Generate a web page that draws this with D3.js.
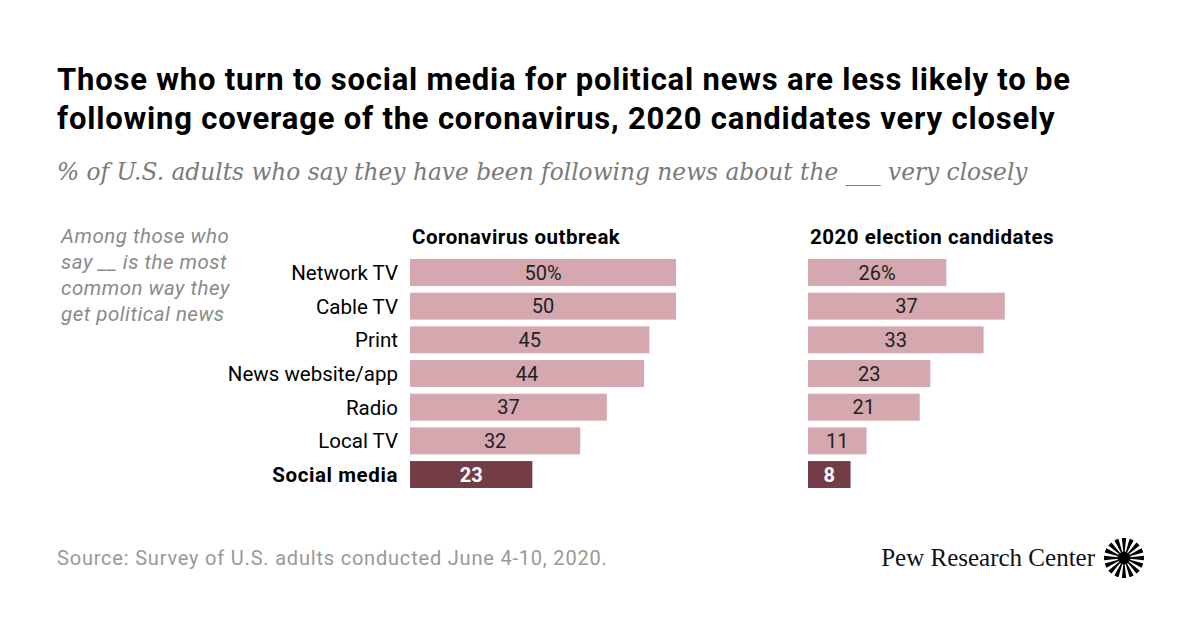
<!DOCTYPE html>
<html>
<head>
<meta charset="utf-8">
<script src="https://cdn.jsdelivr.net/npm/d3@7"></script>
<style>
  body { margin: 0; background: #fff; }
  svg { display: block; }
</style>
</head>
<body>
<div id="chart"></div>
<script>
// data
const categories = ['Network TV', 'Cable TV', 'Print', 'News website/app', 'Radio', 'Local TV', 'Social media'];
const coronavirus = [50, 50, 45, 44, 37, 32, 23];
const candidates = [26, 37, 33, 23, 21, 11, 8];
const panelTitles = ['Coronavirus outbreak', '2020 election candidates'];
const highlight = 'Social media';

const width = 1200;
const height = 628;
const sans = "'Roboto', 'Liberation Sans', sans-serif";
const serif = "'DejaVu Serif', 'Liberation Serif', serif";

const svg = d3.select('#chart')
  .append('svg')
  .attr('width', width)
  .attr('height', height);

// title
const title = svg.append('text')
  .attr('font-family', sans)
  .attr('font-weight', 'bold')
  .attr('font-size', 31)
  .attr('letter-spacing', 0.8)
  .attr('fill', '#000');
title.append('tspan').attr('x', 57).attr('y', 90)
  .text('Those who turn to social media for political news are less likely to be');
title.append('tspan').attr('x', 57).attr('y', 129)
  .text('following coverage of the coronavirus, 2020 candidates very closely');

svg.append('text')
  .attr('x', 57)
  .attr('y', 180)
  .attr('font-family', serif)
  .attr('font-style', 'italic')
  .attr('font-size', 23.3)
  .attr('fill', '#7a7a7a')
  .text('% of U.S. adults who say they have been following news about the ___ very closely');

// side note
const note = svg.append('text')
  .attr('font-family', sans)
  .attr('font-style', 'italic')
  .attr('font-size', 20.5)
  .attr('letter-spacing', 0.5)
  .attr('fill', '#8a8a8a');
['Among those who', 'say __ is the most', 'common way they', 'get political news']
  .forEach((line, i) => {
    note.append('tspan').attr('x', 61).attr('y', 243 + i * 26).text(line);
  });

// scales
const x = d3.scaleLinear().domain([0, 50]).range([0, 266]);
const y = d3.scaleBand()
  .domain(categories)
  .range([259, 488])
  .paddingInner(0.2)
  .paddingOuter(0);

// category labels
svg.append('g')
  .selectAll('text')
  .data(categories)
  .join('text')
  .attr('x', 398)
  .attr('y', (d) => y(d) + y.bandwidth() / 2)
  .attr('dy', '0.36em')
  .attr('text-anchor', 'end')
  .attr('font-family', sans)
  .attr('font-size', 20.5)
  .attr('font-weight', (d) => (d === highlight ? 'bold' : 'normal'))
  .attr('letter-spacing', (d) => (d === highlight ? 0.6 : 0))
  .attr('fill', '#000')
  .text((d) => d);

const panels = [
  { title: panelTitles[0], values: coronavirus, x0: 410 },
  { title: panelTitles[1], values: candidates, x0: 808 },
];

panels.forEach((p) => {
  const g = svg.append('g').attr('transform', `translate(${p.x0},0)`);

  g.append('text')
    .attr('x', 2)
    .attr('y', 244)
    .attr('font-family', sans)
    .attr('font-weight', 'bold')
    .attr('font-size', 20.5)
    .attr('letter-spacing', 0.5)
    .attr('fill', '#000')
    .text(p.title);

  const rows = categories.map((c, i) => ({ cat: c, value: p.values[i], first: i === 0 }));

  g.selectAll('rect')
    .data(rows)
    .join('rect')
    .attr('x', 0)
    .attr('y', (d) => y(d.cat))
    .attr('width', (d) => x(d.value))
    .attr('height', y.bandwidth())
    .attr('fill', (d) => (d.cat === highlight ? '#733c46' : '#d4a8ae'));

  g.selectAll('text.value')
    .data(rows)
    .join('text')
    .attr('class', 'value')
    .attr('x', (d) => x(d.value) / 2)
    .attr('y', (d) => y(d.cat) + y.bandwidth() / 2)
    .attr('dy', '0.36em')
    .attr('text-anchor', 'middle')
    .attr('font-family', sans)
    .attr('font-size', 20)
    .attr('font-weight', (d) => (d.cat === highlight ? 'bold' : 'normal'))
    .attr('fill', (d) => (d.cat === highlight ? '#fff' : '#222'))
    .text((d) => (d.first ? `${d.value}%` : d.value));
});

// footer
svg.append('text')
  .attr('x', 57)
  .attr('y', 565)
  .attr('font-family', sans)
  .attr('font-size', 20)
  .attr('letter-spacing', 0.8)
  .attr('fill', '#999')
  .text('Source: Survey of U.S. adults conducted June 4-10, 2020.');

svg.append('text')
  .attr('x', 1095)
  .attr('y', 566)
  .attr('text-anchor', 'end')
  .attr('font-family', "'Liberation Serif', 'DejaVu Serif', serif")
  .attr('font-size', 25)
  .attr('fill', '#111')
  .text('Pew Research Center');

// logo
const logo = svg.append('g').attr('transform', 'translate(1124,558)');
const nRays = 16;
const ray = d3.arc().innerRadius(6).outerRadius(20);
logo.selectAll('path')
  .data(d3.range(nRays))
  .join('path')
  .attr('d', (i) => ray({
    startAngle: (i / nRays) * 2 * Math.PI - 0.11,
    endAngle: (i / nRays) * 2 * Math.PI + 0.11,
  }))
  .attr('fill', '#000');
logo.append('circle').attr('r', 6.5).attr('fill', '#000');
</script>
</body>
</html>
